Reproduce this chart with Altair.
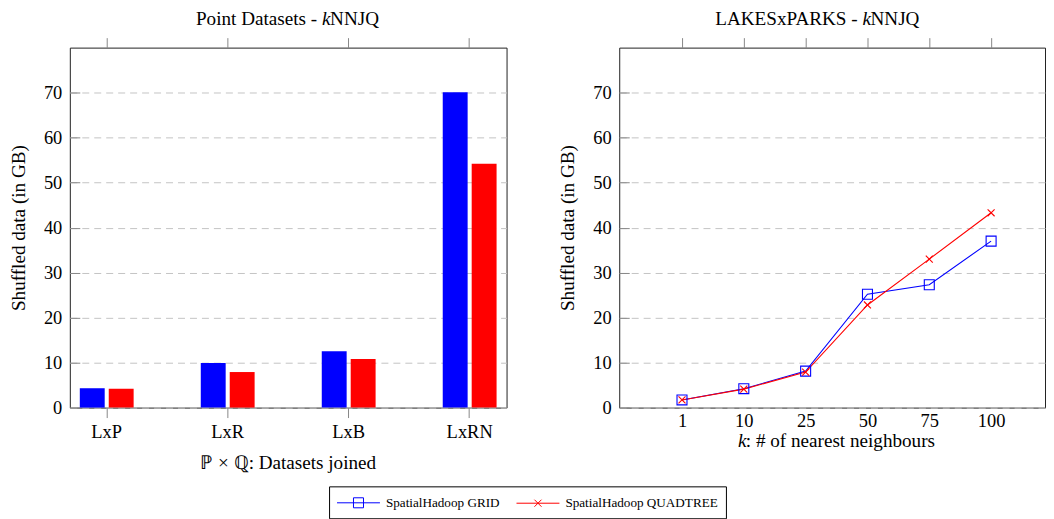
import altair as alt
import pandas as pd

# ---------------- data ----------------
datasets = ["LxP", "LxR", "LxB", "LxRN"]
series = ["SpatialHadoop GRID", "SpatialHadoop QUADTREE"]
grid_vals = [4.3, 9.9, 12.5, 70.1]
quad_vals = [4.2, 7.9, 10.8, 54.2]

k_labels = ["1", "10", "25", "50", "75", "100"]
grid_k = [1.7, 4.2, 8.1, 25.2, 27.3, 37.0]
quad_k = [1.7, 4.1, 7.9, 22.8, 33.0, 43.3]

y_ticks = [0, 10, 20, 30, 40, 50, 60, 70]

# ---------------- styles ----------------
FONT = "Liberation Serif"
FS = 18.5
FT = 19.2
BLUE = "#0000ff"
RED = "#ff0000"
TICK = "#888888"
W_L, W_R, H = 438, 427, 361

bar_df = pd.DataFrame({
    "dataset": datasets * 2,
    "series": [series[0]] * len(datasets) + [series[1]] * len(datasets),
    "value": grid_vals + quad_vals,
})
line_df = pd.DataFrame({
    "k": k_labels * 2,
    "series": [series[0]] * len(k_labels) + [series[1]] * len(k_labels),
    "value": grid_k + quad_k,
})
one = pd.DataFrame({"a": [0]})

yscale = alt.Scale(domain=[0, 80], nice=False)


def y_main():
    return alt.Axis(values=y_ticks, title="Shuffled data (in GB)", grid=True,
                    gridDash=[7, 5], gridColor="#c4c4c4", ticks=False, tickSize=0,
                    domain=False, labelPadding=8, titlePadding=15)


def y_inner():
    return alt.Axis(orient="left", offset=-10, values=y_ticks, labels=False, title=None,
                    ticks=True, tickSize=10, tickColor=TICK, domain=False, grid=False)


def txt(text, x, y, align="left", italic=False):
    return alt.Chart(one).mark_text(
        text=text, align=align, baseline="alphabetic", font=FONT, fontSize=FT,
        fontStyle="italic" if italic else "normal", color="#000"
    ).encode(x=alt.value(x), y=alt.value(y))


# ---------------- left panel ----------------
xband = alt.Scale(domain=datasets, paddingInner=0.555, paddingOuter=0.0825)
xoff = alt.XOffset("series:N", scale=alt.Scale(domain=series, paddingInner=0.14, paddingOuter=0))

bars_grid = alt.Chart(bar_df).transform_filter(alt.datum.series == series[0]).mark_bar(color=BLUE).encode(
    x=alt.X("dataset:N", scale=xband, sort=datasets,
            axis=alt.Axis(orient="bottom", title=None, tickSize=10, tickColor=TICK,
                          labelPadding=5, domain=False, labelAngle=0, grid=False)),
    xOffset=xoff,
    y=alt.Y("value:Q", scale=yscale, axis=y_main()),
)
bars_quad = alt.Chart(bar_df).transform_filter(alt.datum.series == series[1]).mark_bar(color=RED).encode(
    x=alt.X("dataset:N", scale=xband, sort=datasets,
            axis=alt.Axis(orient="top", labels=False, title=None, tickSize=10,
                          tickColor=TICK, domain=False, grid=False)),
    xOffset=xoff,
    y=alt.Y("value:Q", scale=yscale, axis=y_inner()),
)
left = alt.layer(
    bars_grid, bars_quad,
    txt("Point Datasets -", 248, -23, align="right"),
    txt("k", 253, -23, italic=True),
    txt("NNJQ", 261, -23),
    txt("\u2119 \u00d7 \u211a: Datasets joined", W_L / 2, 423, align="center"),
).resolve_axis(x="independent", y="independent").properties(width=W_L, height=H)

# ---------------- right panel ----------------
xpoint = alt.Scale(domain=k_labels, type="point", padding=0.9435, align=0.538)

line_grid = alt.Chart(line_df).transform_filter(alt.datum.series == series[0]).mark_line(
    strokeWidth=1.1, color=BLUE
).encode(
    x=alt.X("k:O", scale=xpoint, sort=k_labels,
            axis=alt.Axis(orient="bottom", title=None, ticks=False, tickSize=0,
                          labelPadding=4, domain=False, labelAngle=0, grid=False)),
    y=alt.Y("value:Q", scale=yscale, axis=y_main()),
)
line_quad = alt.Chart(line_df).transform_filter(alt.datum.series == series[1]).mark_line(
    strokeWidth=1.1, color=RED
).encode(
    x=alt.X("k:O", scale=xpoint, sort=k_labels,
            axis=alt.Axis(orient="top", labels=False, title=None, tickSize=10,
                          tickColor=TICK, domain=False, grid=False)),
    y=alt.Y("value:Q", scale=yscale, axis=y_inner()),
)
squares = alt.Chart(line_df).transform_filter(
    alt.datum.series == series[0]
).mark_point(shape="square", size=100, filled=False, strokeWidth=1.1, color=BLUE, opacity=1).encode(
    x=alt.X("k:O", scale=xpoint, sort=k_labels, axis=None),
    y=alt.Y("value:Q", scale=yscale, axis=None),
)
crosses = alt.Chart(line_df).transform_filter(
    alt.datum.series == series[1]
).mark_point(shape="M-1,-1L1,1M-1,1L1,-1", size=49, filled=False, strokeWidth=1.1, color=RED, opacity=1).encode(
    x=alt.X("k:O", scale=xpoint, sort=k_labels, axis=None),
    y=alt.Y("value:Q", scale=yscale, axis=None),
)

SQ_PATH = "M-1.07,0H4.67M1.13,-0.67H2.47V0.67H1.13Z"
X_PATH = "M-1.07,0H4.67M1.33,-0.47L2.27,0.47M1.33,0.47L2.27,-0.47"
leg = alt.Legend(title=None, orient="none", legendX=260, legendY=440, direction="horizontal",
                 columns=2, strokeColor="#000", padding=8, labelFont=FONT, labelFontSize=13.2,
                 labelColor="#000", symbolSize=225, symbolStrokeWidth=1, symbolOpacity=1,
                 labelOffset=33, columnPadding=14)
legend_layer = alt.Chart(line_df).mark_point(
    filled=False, size=225, opacity=0
).encode(
    x=alt.X("k:O", scale=xpoint, sort=k_labels, axis=None),
    y=alt.Y("value:Q", scale=yscale, axis=None),
    color=alt.Color("series:N", scale=alt.Scale(domain=series, range=[BLUE, RED]), legend=leg),
    shape=alt.Shape("series:N", scale=alt.Scale(domain=series, range=[SQ_PATH, X_PATH]), legend=leg),
)

right = alt.layer(
    line_grid, line_quad, squares, crosses, legend_layer,
    txt("LAKESxPARKS -", 239, -23, align="right"),
    txt("k", 244, -23, italic=True),
    txt("NNJQ", 252, -23),
    txt("k", 119, 401, italic=True),
    txt(": # of nearest neighbours", 127, 401),
).resolve_axis(x="independent", y="independent").properties(width=W_R, height=H)

chart = alt.hconcat(left, right, spacing=51).properties(
    padding={"left": 1, "top": 0, "right": 0, "bottom": 0}
).configure_view(stroke="#222", strokeWidth=1).configure_axis(
    labelFont=FONT, labelFontSize=FS, titleFont=FONT, titleFontSize=FT,
    labelColor="#000", titleColor="#000", titleFontWeight="normal"
)

chart.save("out.html", embed_options={"renderer": "svg", "actions": False})
